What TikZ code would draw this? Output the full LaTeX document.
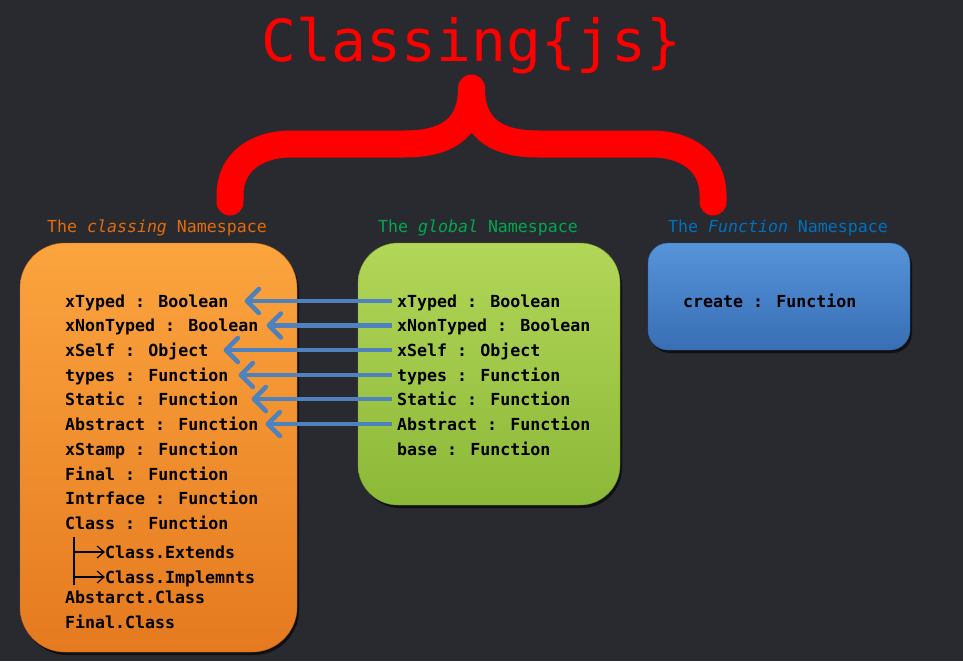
\documentclass[tikz,border=0pt]{standalone}
\usepackage{fontspec}
\setmainfont{DejaVu Sans Mono}[ItalicFont=* Oblique, BoldFont=* Bold, BoldItalicFont=* Bold Oblique]
\usetikzlibrary{arrows.meta,shadows}

\definecolor{bgdark}{RGB}{40,42,47}
\definecolor{bracered}{RGB}{255,0,0}
\definecolor{orangetop}{RGB}{251,164,62}
\definecolor{orangebot}{RGB}{229,122,31}
\definecolor{orangelbl}{RGB}{228,108,10}
\definecolor{greentop}{RGB}{178,214,88}
\definecolor{greenbot}{RGB}{140,184,56}
\definecolor{greenlbl}{RGB}{0,168,80}
\definecolor{bluetop}{RGB}{86,148,218}
\definecolor{bluebot}{RGB}{56,110,180}
\definecolor{bluelbl}{RGB}{0,112,192}
\definecolor{linkblue}{RGB}{79,129,189}

\tikzset{
  nsbox/.style={rounded corners=#1, drop shadow={shadow xshift=2pt, shadow yshift=-3pt, fill=black, opacity=0.6}},
  member/.style={anchor=base west, inner sep=0pt, text height=12pt, text depth=0pt,
    font=\fontsize{16.6}{20}\selectfont\bfseries, text=black},
  nslabel/.style={anchor=base, inner sep=0pt, font=\fontsize{16.6}{20}\selectfont},
  link/.style={linkblue, line width=4.5pt, -{Straight Barb[length=12pt,width=24pt,round]}},
  branch/.style={line width=1.2pt, -{Straight Barb[length=7pt,width=12pt]}}
}

\begin{document}
\begin{tikzpicture}[x=1pt,y=-1pt]
        \fill[bgdark] (0,0) rectangle (963,661);
        \useasboundingbox (0,0) rectangle (963,661);

        %%%%%%%%%% Titolo %%%%%%%%%%
        \node[anchor=base, inner sep=0pt, text=bracered, font=\fontsize{58}{60}\selectfont] (title) at (471.5,62) {Classing\{js\}};
        \draw[bracered, line width=27pt, line cap=round, line join=round]
          (230,202) -- (230,195) .. controls (230,163) and (255,144) .. (292,144) -- (405,144)
          .. controls (452,144) and (471.5,124) .. (471.5,88)
          .. controls (471.5,124) and (491,144) .. (538,144) -- (651,144)
          .. controls (688,144) and (713,163) .. (713,195) -- (713,202);

        %%%%%%%%%% Scatole %%%%%%%%%%
        \node[nsbox=45pt, top color=orangetop, bottom color=orangebot, draw=orangebot!85!black,
          minimum width=277pt, minimum height=409pt] (classingbox) at (158.5,447.5) {};
        \node[nsbox=40pt, top color=greentop, bottom color=greenbot, draw=greenbot!85!black,
          minimum width=262pt, minimum height=262pt] (globalbox) at (489,374) {};
        \node[nsbox=20pt, top color=bluetop, bottom color=bluebot, draw=bluebot!85!black,
          minimum width=262pt, minimum height=107pt] (functionbox) at (779,296.5) {};

        %%%%%%%%%% Etichette %%%%%%%%%%
        \node[nslabel, text=orangelbl] (classinglbl) at (157,232) {The \textit{classing} Namespace};
        \node[nslabel, text=greenlbl] (globallbl) at (478,232) {The \textit{global} Namespace};
        \node[nslabel, text=bluelbl] (functionlbl) at (778,232) {The \textit{Function} Namespace};

        %%%%%%%%%% classing %%%%%%%%%%
        \node[member] (c1) at (65,307) {xTyped : Boolean};
        \node[member] (c2) at (65,331.5) {xNonTyped : Boolean};
        \node[member] (c3) at (65,356) {xSelf : Object};
        \node[member] (c4) at (65,381) {types : Function};
        \node[member] (c5) at (65,405) {Static : Function};
        \node[member] (c6) at (65,430) {Abstract : Function};
        \node[member] (c7) at (65,455) {xStamp : Function};
        \node[member] (c8) at (65,480) {Final : Function};
        \node[member] (c9) at (65,504) {Intrface : Function};
        \node[member] (c10) at (65,529) {Class : Function};
        \node[member] (ext) at (105,558) {Class.Extends};
        \node[member] (imp) at (105,583) {Class.Implemnts};
        \node[member] (c11) at (65,603) {Abstarct.Class};
        \node[member] (c12) at (65,628) {Final.Class};

        %%%%%%%%%% global %%%%%%%%%%
        \node[member] (g1) at (397,307) {xTyped : Boolean};
        \node[member] (g2) at (397,331.5) {xNonTyped : Boolean};
        \node[member] (g3) at (397,356) {xSelf : Object};
        \node[member] (g4) at (397,381) {types : Function};
        \node[member] (g5) at (397,405) {Static : Function};
        \node[member] (g6) at (397,430) {Abstract : Function};
        \node[member] (g7) at (397,455) {base : Function};

        %%%%%%%%%% Function %%%%%%%%%%
        \node[member] (f1) at (683,307) {create : Function};

        %%%%%%%%% Archi %%%%%%%%%%
        \draw[link, shorten <=5pt, shorten >=16pt] (g1.west) -- (c1.east);
        \draw[link, shorten <=5pt, shorten >=8pt] (g2.west) -- (c2.east);
        \draw[link, shorten <=5pt, shorten >=15pt] (g3.west) -- (c3.east);
        \draw[link, shorten <=5pt, shorten >=10pt] (g4.west) -- (c4.east);
        \draw[link, shorten <=5pt, shorten >=13pt] (g5.west) -- (c5.east);
        \draw[link, shorten <=5pt, shorten >=7pt] (g6.west) -- (c6.east);

        \coordinate (treetop) at (74,537);
        \coordinate (treebot) at (74,585);
        \draw[line width=1.2pt] (treetop) -- (treebot);
        \draw[branch] (treetop |- ext.west) -- (ext.west);
        \draw[branch] (treetop |- imp.west) -- (imp.west);
    \end{tikzpicture}
\end{document}
